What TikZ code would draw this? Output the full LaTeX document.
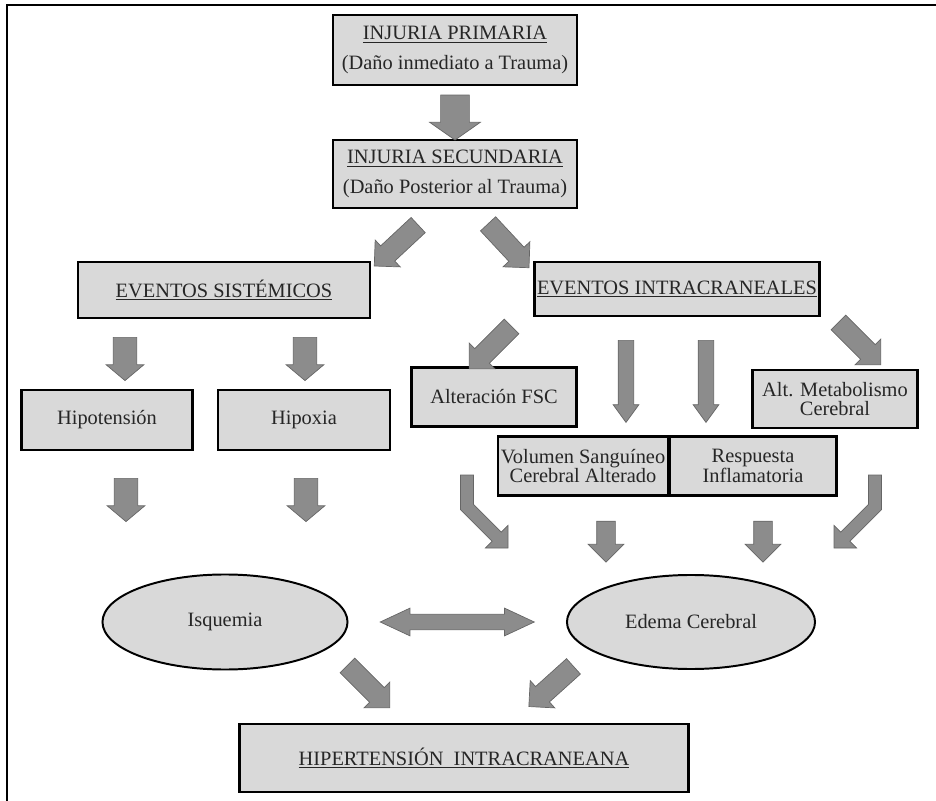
\documentclass[tikz,border=0pt]{standalone}
\usepackage{fontspec}
\setmainfont{Liberation Serif}
\usetikzlibrary{shapes.geometric,shapes.arrows,positioning,calc}

\begin{document}
\begin{tikzpicture}[
    x=0.025cm, y=-0.025cm,
    box/.style={rectangle, draw, line width=2pt, fill=black!15, align=center, text=black!85,
        font=\fontsize{14.5}{14}\selectfont, inner sep=2pt},
    oval/.style={ellipse, draw, line width=1.4pt, fill=black!15, text=black!85,
        font=\fontsize{14.5}{14}\selectfont},
    fat/.style={single arrow, draw=black!60, fill=black!45, line width=0.5pt, inner xsep=0pt},
    fatA/.style={fat, rotate=#1, minimum height=1.125cm, minimum width=1.25cm, inner ysep=0.35cm,
        single arrow head extend=0.275cm, single arrow tip angle=110},
    fatB/.style={fat, rotate=#1, minimum height=1.08cm, minimum width=0.925cm, inner ysep=0.2875cm,
        single arrow head extend=0.175cm, single arrow tip angle=100},
    fatC/.style={fat, rotate=#1, minimum height=1.5cm, minimum width=0.9cm, inner ysep=0.25cm,
        single arrow head extend=0.2cm, single arrow tip angle=90},
    fatD/.style={fat, rotate=#1, minimum height=2.05cm, minimum width=0.625cm, inner ysep=0.1875cm,
        single arrow head extend=0.125cm, single arrow tip angle=72},
    fatE/.style={fat, rotate=#1, minimum height=1.025cm, minimum width=0.875cm, inner ysep=0.225cm,
        single arrow head extend=0.2125cm, single arrow tip angle=90},
    bent/.style={draw=black!60, fill=black!45, line width=0.5pt}
]
    \useasboundingbox (0,0) rectangle (936,801);
    \draw[line width=2pt] (7,801) |- (936,5);

    % boxes
    \node[box, font=\fontsize{14.5}{21}\selectfont, minimum width=6.1cm, minimum height=1.75cm] (prim) at (455,50)
        {\underline{INJURIA PRIMARIA}\\(Daño inmediato a Trauma)};
    \node[box, font=\fontsize{14.5}{21}\selectfont, minimum width=6.1cm, minimum height=1.7cm] (secu) at (455,174)
        {\underline{INJURIA SECUNDARIA}\\(Daño Posterior al Trauma)};
    \node[box, minimum width=7.3cm, minimum height=1.4cm] (sist) at (224,290) {\underline{EVENTOS SISTÉMICOS}};
    \node[box, minimum width=7.125cm, minimum height=1.35cm] (intra) at (677,289) {\underline{EVENTOS INTRACRANEALES}};
    \node[box, minimum width=4.275cm, minimum height=1.5cm] (hipot) at (107,420) {Hipotensión};
    \node[box, minimum width=4.3cm, minimum height=1.5cm] (hipox) at (304,420) {Hipoxia};
    \node[box, minimum width=4.125cm, minimum height=1.475cm] (fsc) at (494,397) {Alteración FSC};
    \node[box, minimum width=4.125cm, minimum height=1.45cm] (meta) at (835,399) {Alt. Metabolismo\\Cerebral};
    \node[box, minimum width=4.15cm, minimum height=1.475cm] (vol) at (583,466) {Volumen Sanguíneo\\Cerebral Alterado};
    \node[box, minimum width=4.175cm, minimum height=1.475cm] (resp) at (753,466) {Respuesta\\Inflamatoria};
    \node[oval, minimum width=6.125cm, minimum height=2.375cm] (isq) at (225,622) {Isquemia};
    \node[oval, minimum width=6.2cm, minimum height=2.35cm] (edema) at (691,622) {Edema Cerebral};
    \node[box, minimum width=11.225cm, minimum height=1.7cm] (hic) at (464,758)
        {\underline{HIPERTENSIÓN\ \ INTRACRANEANA}};

    % arrows
    \node[fatA=-90] (ar1) at ($(prim.south)!.5!(secu.north)$) {};
    \node[fatC=-137] (ar2) at (400,242) {};
    \node[fatC=-47] (ar3) at (505,242) {};
    \node[fatB=-90] (ar4) at (125,354) {};
    \node[fatB=-90] (ar5) at (305,354) {};
    \node[fatC=-135] (ar6) at (494,344) {};
    \node[fatD=-90] (ar7) at (626,376) {};
    \node[fatD=-90] (ar8) at (706,376) {};
    \node[fatC=-45] (ar9) at (856,340) {};
    \node[fatE=-90] (ar11) at (606,537) {};
    \node[fatE=-90] (ar12) at (763,537) {};
    \node[fatB=-90] (ar14) at (126,495) {};
    \node[fatB=-90] (ar15) at (306,495) {};
    \node[fatC=-45] (ar16) at (365,683) {};
    \node[fatC=-138] (ar17) at (555,683) {};
    \node[double arrow, draw=black!60, fill=black!45, line width=0.5pt, inner xsep=0pt,
        minimum height=3.85cm, minimum width=0.675cm, inner ysep=0.1875cm,
        double arrow head extend=0.15cm, double arrow tip angle=50] (dbl) at ($(isq.east)!.5!(edema.west)$) {};

    % bent arrows
    \coordinate (bentL) at (467,475);
    \coordinate (bentR) at (875,475);
    \begin{scope}[shift={(bentL)}]
        \draw[bent] (-6.5,0) -- (6.5,0) -- (6.5,29.3) -- (34.3,57.1) -- (41,50.4) -- (41,73)
            -- (18.4,73) -- (25.1,66.3) -- (-6.5,34.7) -- cycle;
    \end{scope}
    \begin{scope}[shift={(bentR)}, xscale=-1]
        \draw[bent] (-6.5,0) -- (6.5,0) -- (6.5,29.3) -- (34.3,57.1) -- (41,50.4) -- (41,73)
            -- (18.4,73) -- (25.1,66.3) -- (-6.5,34.7) -- cycle;
    \end{scope}
\end{tikzpicture}
\end{document}
